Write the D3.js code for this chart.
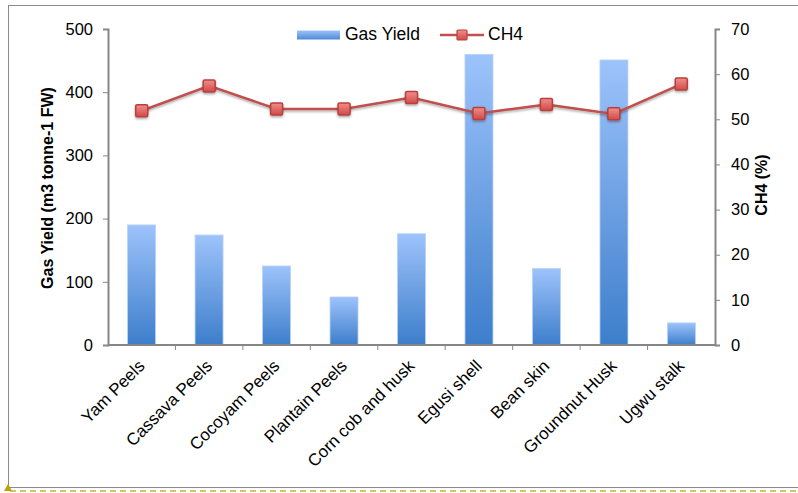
<!DOCTYPE html>
<html>
<head>
<meta charset="utf-8">
<script src="https://cdn.jsdelivr.net/npm/d3@7"></script>
<style>
  body { margin: 0; background: #fff; }
  svg { font-family: "Liberation Sans", Arial, sans-serif; }
</style>
</head>
<body>
<svg id="chart" width="798" height="493"></svg>
<script>
// dados
const categories = ["Yam Peels", "Cassava Peels", "Cocoyam Peels", "Plantain Peels",
  "Corn cob and husk", "Egusi shell", "Bean skin", "Groundnut Husk", "Ugwu stalk"];
const gasYield = [190, 174, 125, 76, 176, 460, 121, 451, 35];
const ch4 = [51.9, 57.4, 52.3, 52.3, 54.8, 51.3, 53.3, 51.2, 57.8];
const leftTicks = [0, 100, 200, 300, 400, 500];
const rightTicks = [0, 10, 20, 30, 40, 50, 60, 70];

const svg = d3.select("#chart");
const pLeft = 108, pRight = 715, pTop = 29, pBottom = 345;

const x = d3.scaleBand().domain(categories).range([pLeft, pRight]).paddingInner(0.585).paddingOuter(0.29);
const xb = d3.scaleBand().domain(categories).range([pLeft, pRight]);
const yL = d3.scaleLinear().domain([0, 500]).range([pBottom, pTop]);
const yR = d3.scaleLinear().domain([0, 70]).range([pBottom, pTop]);

const defs = svg.append("defs");
const g1 = defs.append("linearGradient").attr("id", "barGrad").attr("x1", 0).attr("y1", 0).attr("x2", 0).attr("y2", 1);
g1.append("stop").attr("offset", "0%").attr("stop-color", "#9dc3fb");
g1.append("stop").attr("offset", "100%").attr("stop-color", "#3d7ecb");
const g2 = defs.append("linearGradient").attr("id", "legGrad").attr("x1", 0).attr("y1", 0).attr("x2", 0).attr("y2", 1);
g2.append("stop").attr("offset", "0%").attr("stop-color", "#9dc3fb");
g2.append("stop").attr("offset", "100%").attr("stop-color", "#4f8ad4");
const g3 = defs.append("linearGradient").attr("id", "mkGrad").attr("x1", 0).attr("y1", 0).attr("x2", 0).attr("y2", 1);
g3.append("stop").attr("offset", "0%").attr("stop-color", "#f28e8c");
g3.append("stop").attr("offset", "100%").attr("stop-color", "#d04a47");
const sh = defs.append("filter").attr("id", "shadow").attr("x", "-50%").attr("y", "-50%").attr("width", "200%").attr("height", "200%");
sh.append("feDropShadow").attr("dx", 0).attr("dy", 1.5).attr("stdDeviation", 1.2).attr("flood-color", "#000").attr("flood-opacity", 0.35);

// moldura
svg.append("rect").attr("x", 8.5).attr("y", 5.5).attr("width", 800).attr("height", 482)
  .attr("fill", "none").attr("stroke", "#8c8c8c").attr("stroke-width", 1);
svg.append("line").attr("x1", 10).attr("x2", 798).attr("y1", 491).attr("y2", 491)
  .attr("stroke", "#d4c46a").attr("stroke-width", 2).attr("stroke-dasharray", "6,4");
svg.append("path").attr("d", "M4,491 L8,484 L12,491 Z").attr("fill", "#b8a300");

// barras
svg.selectAll("rect.bar").data(categories).enter().append("rect")
  .attr("class", "bar")
  .attr("x", d => x(d))
  .attr("width", x.bandwidth())
  .attr("y", (d, i) => yL(gasYield[i]))
  .attr("height", (d, i) => pBottom - yL(gasYield[i]))
  .attr("fill", "url(#barGrad)")
  .attr("stroke", "#b9d3f5").attr("stroke-width", 0.8);

// eixos
const axisColor = "#868686";
const gl = svg.append("g").attr("transform", `translate(${pLeft},0)`)
  .call(d3.axisLeft(yL).tickValues(leftTicks).tickSize(5).tickPadding(10));
const gr = svg.append("g").attr("transform", `translate(${pRight},0)`)
  .call(d3.axisRight(yR).tickValues(rightTicks).tickSize(5).tickPadding(11));
const gx = svg.append("g").attr("transform", `translate(0,${pBottom})`)
  .call(d3.axisBottom(xb).tickSize(0).tickFormat(""));
[gl, gr, gx].forEach(g => {
  g.select(".domain").attr("stroke", axisColor).attr("stroke-width", 2);
  g.selectAll(".tick line").attr("stroke", axisColor).attr("stroke-width", 1);
  g.selectAll("text").attr("font-size", 16.5).attr("fill", "#000").attr("font-family", "Liberation Sans, Arial");
});
gx.select(".domain").attr("d", `M${pLeft},0H${pRight}`);
// marcas entre categorias
svg.selectAll("line.xt").data(categories.slice(1)).enter().append("line")
  .attr("x1", d => xb(d)).attr("x2", d => xb(d))
  .attr("y1", pBottom).attr("y2", pBottom + 5)
  .attr("stroke", axisColor);

// rótulos do eixo x
svg.selectAll("text.xl").data(categories).enter().append("text")
  .attr("class", "xl")
  .attr("transform", d => `translate(${xb(d) + xb.bandwidth() / 2 + 4},${pBottom + 22}) rotate(-45)`)
  .attr("text-anchor", "end")
  .attr("font-size", 17)
  .text(d => d);

// títulos
svg.append("text").attr("transform", `translate(53,${188}) rotate(-90)`)
  .attr("text-anchor", "middle").attr("font-weight", "bold").attr("font-size", 16)
  .text("Gas Yield (m3 tonne-1 FW)");
svg.append("text").attr("transform", `translate(767,${185}) rotate(-90)`)
  .attr("text-anchor", "middle").attr("font-weight", "bold").attr("font-size", 16)
  .text("CH4 (%)");

// linha CH4
const cx = d => xb(d) + xb.bandwidth() / 2;
const line = d3.line().x(d => cx(d)).y((d, i) => yR(ch4[i]));
svg.append("path").datum(categories).attr("d", line)
  .attr("fill", "none").attr("stroke", "#c0504d").attr("stroke-width", 2.5)
  .attr("filter", "url(#shadow)");
svg.selectAll("rect.mk").data(categories).enter().append("rect")
  .attr("class", "mk")
  .attr("x", d => cx(d) - 6).attr("y", (d, i) => yR(ch4[i]) - 6)
  .attr("width", 12).attr("height", 12).attr("rx", 1.5)
  .attr("fill", "url(#mkGrad)").attr("stroke", "#b7403d").attr("stroke-width", 1.5)
  .attr("filter", "url(#shadow)");

// legenda
const lg = svg.append("g");
lg.append("rect").attr("x", 297).attr("y", 30.5).attr("width", 43).attr("height", 9).attr("fill", "url(#legGrad)");
lg.append("text").attr("x", 345).attr("y", 40).attr("font-size", 17.5).text("Gas Yield");
lg.append("line").attr("x1", 440).attr("x2", 484).attr("y1", 35).attr("y2", 35)
  .attr("stroke", "#c0504d").attr("stroke-width", 2.5);
lg.append("rect").attr("x", 457).attr("y", 30).attr("width", 10).attr("height", 10).attr("rx", 1)
  .attr("fill", "url(#mkGrad)").attr("stroke", "#b7403d").attr("stroke-width", 1.2);
lg.append("text").attr("x", 488).attr("y", 40).attr("font-size", 17.5).text("CH4");
</script>
</body>
</html>
